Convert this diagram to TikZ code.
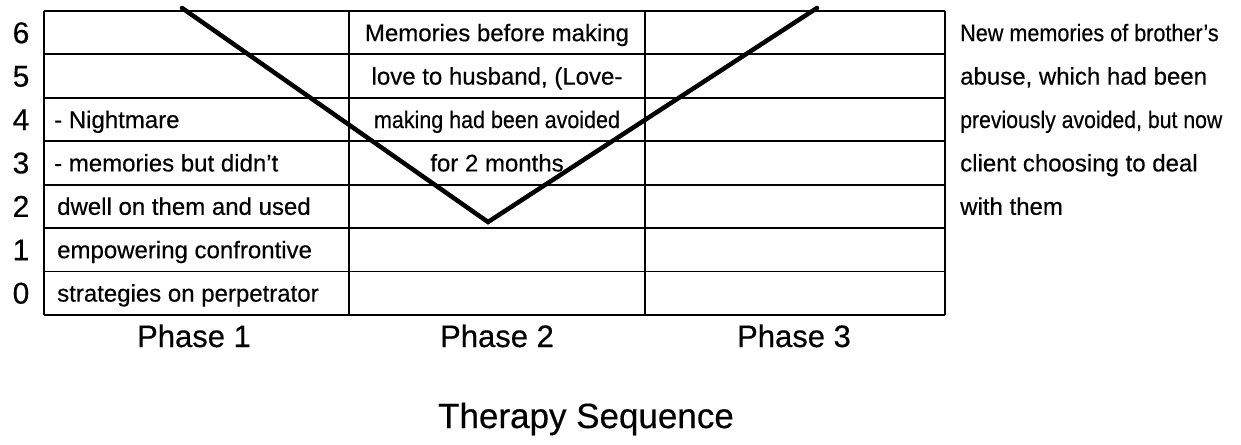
\documentclass[tikz,border=0pt]{standalone}
\usepackage{fontspec}
\setmainfont{Liberation Sans}[FakeBold=0.4,AutoFakeBold=0.4]
\begin{document}
\begin{tikzpicture}[x=1pt,y=-1pt,
  gridline/.style={line width=1.8pt,black},
  trend/.style={line width=4.5pt,black,line join=miter,line cap=round},
  celltext/.style={font=\fontsize{24}{28}\selectfont\bfseries,inner sep=0pt,anchor=base west},
  midtext/.style={font=\fontsize{24}{28}\selectfont\bfseries,inner sep=0pt,anchor=base},
  scoretext/.style={font=\fontsize{30}{34}\selectfont\bfseries,inner sep=0pt,anchor=base},
  phasetext/.style={font=\fontsize{31}{36}\selectfont\bfseries,inner sep=0pt,anchor=base},
  titletext/.style={font=\fontsize{35}{40}\selectfont\bfseries,inner sep=0pt,anchor=base}]
\useasboundingbox (0,0) rectangle (1241,444);

% table grid: 7 rows, 3 phase columns
\def\rowh{43.4}
\foreach \k in {0,...,7}
  \draw[gridline] (44,{11+\k*\rowh}) -- (945,{11+\k*\rowh});
\foreach \xx in {44,349,645,945}
  \draw[gridline] (\xx,11) -- (\xx,{11+7*\rowh});

% score labels 6 .. 0
\foreach \s [count=\i from 0] in {6,5,4,3,2,1,0}
  \node[scoretext] (score\s) at (21,{11+(\i+0.5)*\rowh+10.5}) {\s};

% phase 1 column
\node[celltext] (p1a) at (54,{11+2.5*\rowh+8.5}) {- Nightmare};
\node[celltext] (p1b) at (54,{11+3.5*\rowh+8.5}) {- memories but didn’t};
\node[celltext] (p1c) at (57,{11+4.5*\rowh+8.5}) {dwell on them and used};
\node[celltext] (p1d) at (57,{11+5.5*\rowh+8.5}) {empowering confrontive};
\node[celltext] (p1e) at (57,{11+6.5*\rowh+8.5}) {strategies on perpetrator};

% phase 2 column
\node[midtext] (p2a) at (497,{11+0.5*\rowh+8.5}) {Memories before making};
\node[midtext] (p2b) at (497,{11+1.5*\rowh+8.5}) {love to husband, (Love-};
\node[midtext] (p2c) at (497,{11+2.5*\rowh+8.5}) {\scalebox{0.895}[1]{making had been avoided}};
\node[midtext] (p2d) at (497,{11+3.5*\rowh+8.5}) {for 2 months};

% notes beside phase 3
\node[celltext] (n1) at (960,{11+0.5*\rowh+8.5}) {\scalebox{0.9}[1]{New memories of brother’s}};
\node[celltext] (n2) at (960,{11+1.5*\rowh+8.5}) {abuse, which had been};
\node[celltext] (n3) at (960,{11+2.5*\rowh+8.5}) {\scalebox{0.885}[1]{previously avoided, but now}};
\node[celltext] (n4) at (960,{11+3.5*\rowh+8.5}) {client choosing to deal};
\node[celltext] (n5) at (960,{11+4.5*\rowh+8.5}) {with them};

% trend line
\coordinate (vstart) at (182,8);
\coordinate (vlow) at (488,222);
\coordinate (vend) at (817,8);
\draw[trend] (vstart) -- (vlow) -- (vend);

% phase labels and title
\node[phasetext] (ph1) at (194,347) {Phase 1};
\node[phasetext] (ph2) at (497,347) {Phase 2};
\node[phasetext] (ph3) at (794,347) {Phase 3};
\node[titletext] (title) at (586,428) {Therapy Sequence};
\end{tikzpicture}
\end{document}
